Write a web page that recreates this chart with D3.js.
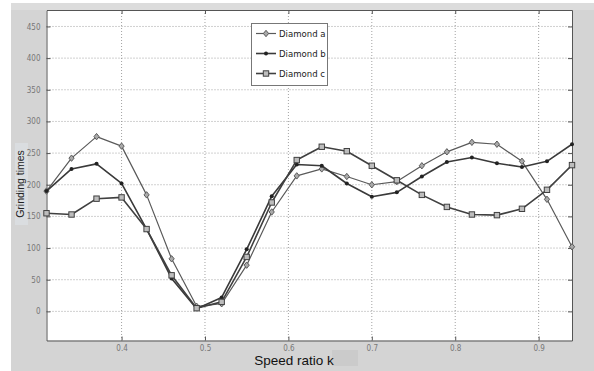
<!DOCTYPE html>
<html>
<head>
<meta charset="utf-8">
<script src="https://cdn.jsdelivr.net/npm/d3@7"></script>
<style>
  html, body { margin: 0; padding: 0; background: #fff; }
  svg { display: block; }
</style>
</head>
<body>
<div id="chart"></div>
<script>
// speed ratio k at each measured point
const speedRatio = [0.31, 0.34, 0.37, 0.40, 0.43, 0.46, 0.49, 0.52, 0.55, 0.58, 0.61,
                    0.64, 0.67, 0.70, 0.73, 0.76, 0.79, 0.82, 0.85, 0.88, 0.91, 0.94];
const diamondA = [190, 242, 276, 261, 184, 83, 8, 12, 73, 157, 214, 225, 213, 200, 205, 230, 252, 267, 264, 237, 177, 102];
const diamondB = [190, 225, 233, 202, 130, 52, 4, 22, 98, 182, 232, 230, 202, 181, 188, 213, 236, 243, 234, 228, 237, 264];
const diamondC = [155, 153, 178, 180, 130, 57, 5, 15, 86, 172, 239, 260, 253, 230, 207, 184, 165, 153, 152, 162, 192, 231];
const seriesNames = ['Diamond a', 'Diamond b', 'Diamond c'];
const xTicks = [0.4, 0.5, 0.6, 0.7, 0.8, 0.9];
const yTicks = [0, 50, 100, 150, 200, 250, 300, 350, 400, 450];

const width = 594, height = 371;
const plot = { left: 46.5, right: 572, top: 10, bottom: 340.5 };

const svg = d3.select('#chart').append('svg')
  .attr('width', width).attr('height', height);

// figure background
svg.append('rect').attr('x', 11).attr('y', 3).attr('width', width - 11).attr('height', height - 3)
  .attr('fill', '#d4d4d4');
svg.append('rect').attr('x', 11).attr('y', 3).attr('width', width - 11).attr('height', 7)
  .attr('fill', '#dcdcdc');

const x = d3.scaleLinear().domain([0.31, 0.94]).range([plot.left, plot.right]);
const y = d3.scaleLinear().domain([-46, 476]).range([plot.bottom, plot.top]);

svg.append('rect')
  .attr('x', plot.left).attr('y', plot.top)
  .attr('width', plot.right - plot.left).attr('height', plot.bottom - plot.top)
  .attr('fill', '#fff');

// dotted grid
svg.append('g').selectAll('line').data(xTicks).enter().append('line')
  .attr('x1', d => x(d)).attr('x2', d => x(d))
  .attr('y1', plot.top).attr('y2', plot.bottom)
  .attr('stroke', '#8a8a8a').attr('stroke-width', 0.8).attr('stroke-dasharray', '1,2');
svg.append('g').selectAll('line').data(yTicks).enter().append('line')
  .attr('x1', plot.left).attr('x2', plot.right)
  .attr('y1', d => y(d)).attr('y2', d => y(d))
  .attr('stroke', '#8a8a8a').attr('stroke-width', 0.8).attr('stroke-dasharray', '1,2');

// axis title background patch
svg.append('rect').attr('x', 15).attr('y', 143).attr('width', 13).attr('height', 82)
  .attr('fill', '#dadde0');

// axes (ticks inward, MATLAB style)
const bottomAxis = svg.append('g').attr('transform', `translate(0,${plot.bottom})`)
  .call(d3.axisBottom(x).tickValues(xTicks).tickFormat(d3.format('.1f')).tickSizeInner(-4).tickSizeOuter(0).tickPadding(5));
const leftAxis = svg.append('g').attr('transform', `translate(${plot.left},0)`)
  .call(d3.axisLeft(y).tickValues(yTicks).tickSizeInner(-4).tickSizeOuter(0).tickPadding(6));
const topAxis = svg.append('g').attr('transform', `translate(0,${plot.top})`)
  .call(d3.axisTop(x).tickValues(xTicks).tickFormat('').tickSizeInner(-4).tickSizeOuter(0));
const rightAxis = svg.append('g').attr('transform', `translate(${plot.right},0)`)
  .call(d3.axisRight(y).tickValues(yTicks).tickFormat('').tickSizeInner(-4).tickSizeOuter(0));

[bottomAxis, leftAxis, topAxis, rightAxis].forEach(g => {
  g.select('.domain').attr('stroke', '#555').attr('stroke-width', 1);
  g.selectAll('.tick line').attr('stroke', '#555');
  g.selectAll('text').attr('fill', '#777').attr('font-size', 8)
    .attr('font-family', 'DejaVu Sans Condensed, Liberation Sans, Arial, sans-serif');
});

// series
const series = [
  { name: seriesNames[0], values: diamondA, stroke: '#5a5a5a', width: 1.2, marker: 'diamond' },
  { name: seriesNames[1], values: diamondB, stroke: '#3a3a3a', width: 1.6, marker: 'dot' },
  { name: seriesNames[2], values: diamondC, stroke: '#404040', width: 1.6, marker: 'square' }
];

const line = d3.line().x(d => x(d[0])).y(d => y(d[1]));

function drawMarker(g, kind, cx, cy, stroke) {
  if (kind === 'diamond') {
    g.append('path').attr('d', `M${cx},${cy - 3.2}L${cx + 2.6},${cy}L${cx},${cy + 3.2}L${cx - 2.6},${cy}Z`)
      .attr('fill', '#aaa').attr('stroke', stroke).attr('stroke-width', 1);
  } else if (kind === 'dot') {
    g.append('circle').attr('cx', cx).attr('cy', cy).attr('r', 2).attr('fill', '#222');
  } else {
    g.append('rect').attr('x', cx - 2.7).attr('y', cy - 2.7).attr('width', 5.4).attr('height', 5.4)
      .attr('fill', '#bdbdbd').attr('stroke', stroke).attr('stroke-width', 1);
  }
}

svg.append('clipPath').attr('id', 'plotclip').append('rect')
  .attr('x', plot.left).attr('y', plot.top)
  .attr('width', plot.right - plot.left).attr('height', plot.bottom - plot.top);

series.forEach(s => {
  const pts = speedRatio.map((k, i) => [k, s.values[i]]);
  const g = svg.append('g');
  g.append('path').datum(pts)
    .attr('fill', 'none').attr('stroke', s.stroke).attr('stroke-width', s.width)
    .attr('stroke-linejoin', 'round').attr('d', line)
    .attr('clip-path', 'url(#plotclip)');
  pts.forEach(p => drawMarker(g, s.marker, x(p[0]), y(p[1]), s.stroke));
});

// legend
const legend = svg.append('g');
legend.append('rect').attr('x', 251.5).attr('y', 23.5).attr('width', 76).attr('height', 62)
  .attr('fill', '#fff').attr('stroke', '#777').attr('stroke-width', 1);
series.forEach((s, i) => {
  const ly = 33.5 + i * 20;
  legend.append('line').attr('x1', 256).attr('x2', 276).attr('y1', ly).attr('y2', ly)
    .attr('stroke', s.stroke).attr('stroke-width', s.width);
  drawMarker(legend, s.marker, 266, ly, s.stroke);
  legend.append('text').attr('x', 279).attr('y', ly + 3.5)
    .attr('font-size', 9.5).attr('fill', '#222')
    .attr('font-family', 'DejaVu Sans Condensed, Liberation Sans, Arial, sans-serif')
    .text(s.name);
});

// axis titles
svg.append('text')
  .attr('transform', `translate(24,184) rotate(-90)`)
  .attr('text-anchor', 'middle').attr('font-size', 10.5).attr('fill', '#222')
  .attr('font-family', 'Liberation Sans, Arial, sans-serif')
  .text('Grinding times');

svg.append('rect').attr('x', 332).attr('y', 350).attr('width', 26).attr('height', 16)
  .attr('fill', '#cbcbcb');
svg.append('text')
  .attr('x', 294).attr('y', 365)
  .attr('text-anchor', 'middle').attr('font-size', 13.5).attr('fill', '#111')
  .attr('font-family', 'Liberation Sans, Arial, sans-serif')
  .text('Speed ratio k');
</script>
</body>
</html>
